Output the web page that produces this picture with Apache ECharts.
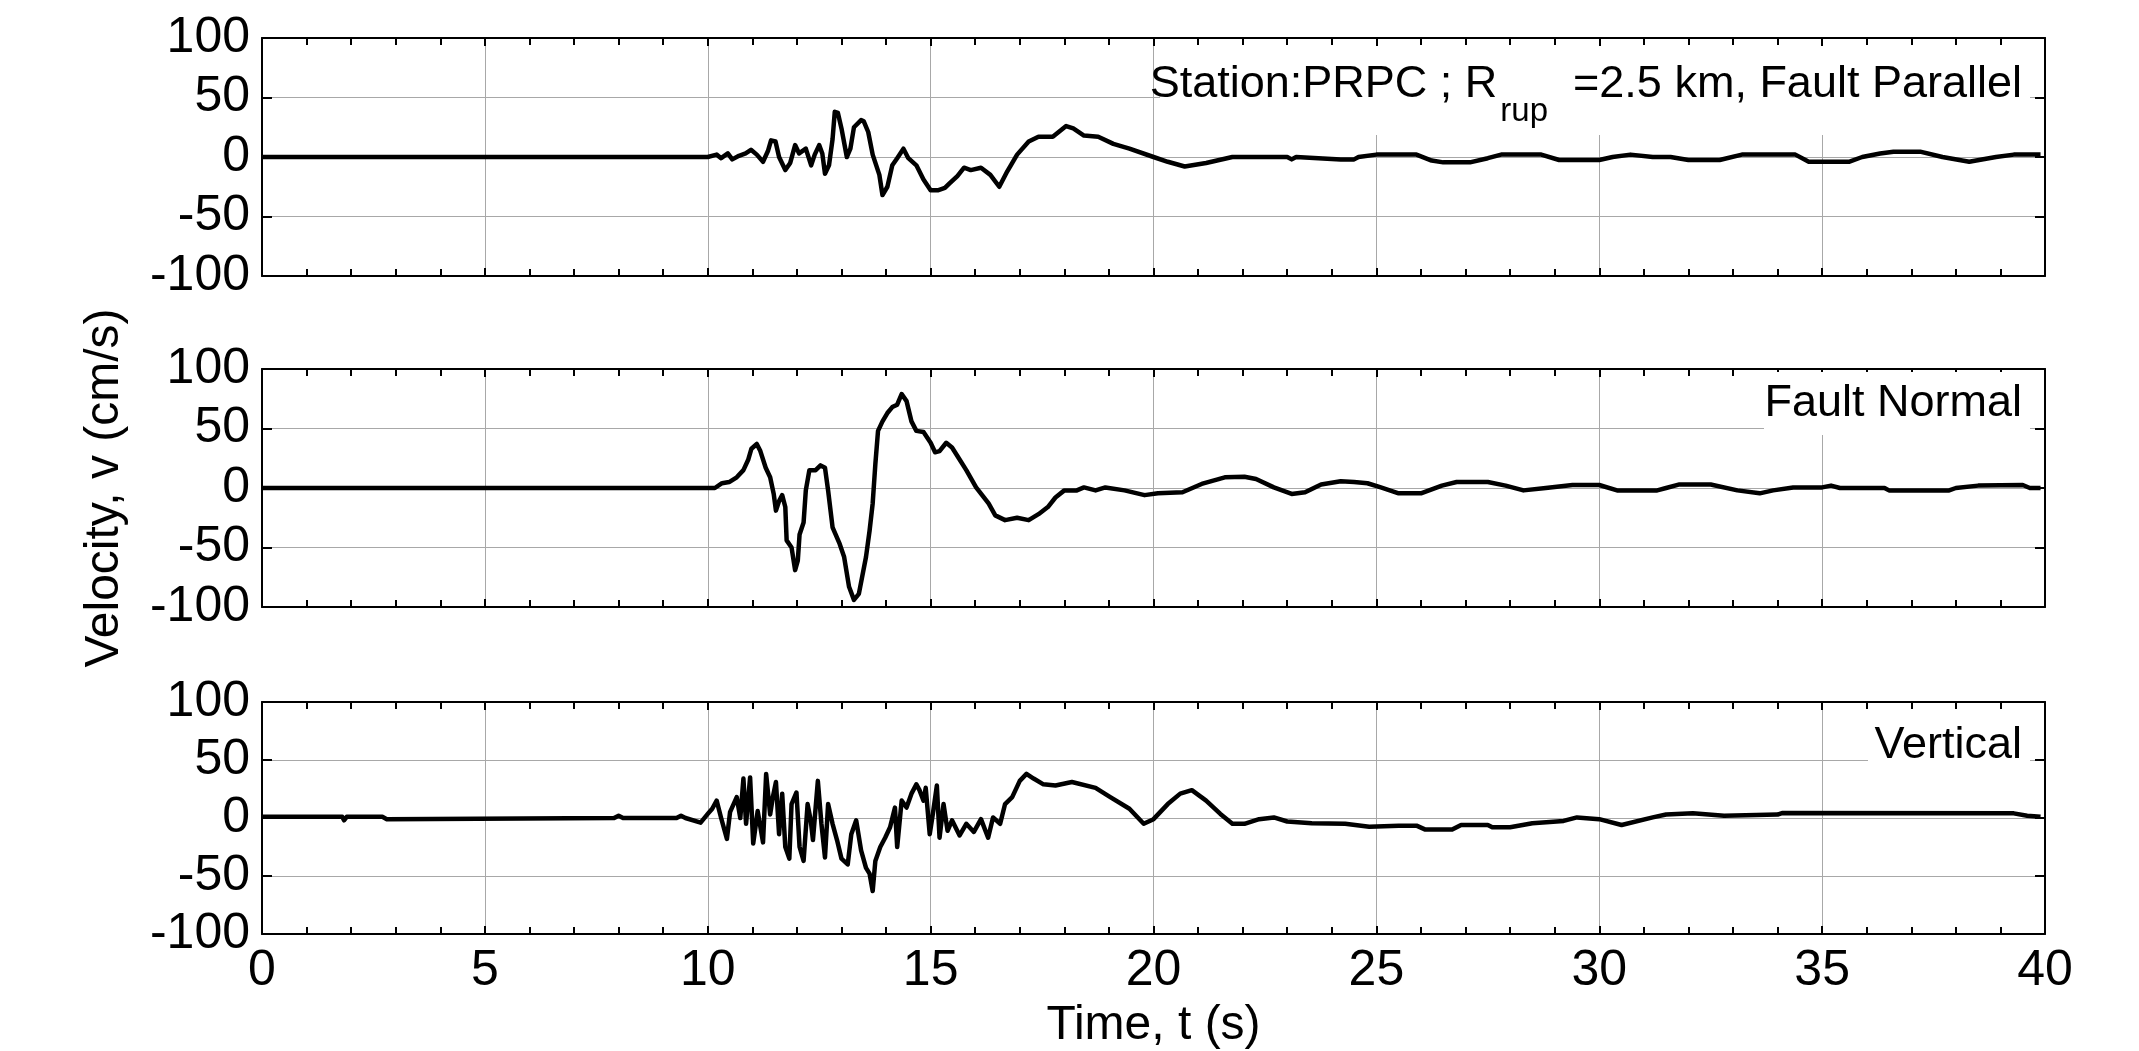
<!DOCTYPE html>
<html>
<head>
<meta charset="utf-8">
<script src="https://cdn.jsdelivr.net/npm/echarts@6/dist/echarts.min.js"></script>
<style>
html,body{margin:0;padding:0;background:#fff;}
#chart{width:2139px;height:1051px;}
</style>
</head>
<body>
<div id="chart"></div>
<script>
// ---- data (time s, velocity cm/s) ----
const xTicks = [0, 5, 10, 15, 20, 25, 30, 35, 40];
const yTicks = [-100, -50, 0, 50, 100];
const panelLabels = ["Fault Parallel", "Fault Normal", "Vertical"];
const stationText = ["Station:PRPC ; R", "rup", "  =2.5 km, "];

const tParallel = [0,10,10.2,10.3,10.45,10.55,10.7,10.85,10.97,11.1,11.24,11.35,11.42,11.52,11.6,11.74,11.85,11.96,12.05,12.2,12.32,12.4,12.5,12.57,12.63,12.72,12.8,12.85,12.92,13.0,13.12,13.2,13.28,13.44,13.5,13.6,13.7,13.85,13.92,14.03,14.14,14.25,14.39,14.5,14.68,14.84,15.0,15.16,15.32,15.43,15.6,15.75,15.9,16.13,16.34,16.54,16.72,16.94,17.2,17.42,17.74,18.04,18.2,18.44,18.76,19.1,19.46,20.0,20.32,20.7,21.18,21.77,23.0,23.1,23.2,24.2,24.5,24.6,25.0,25.9,26.24,26.5,27.1,27.5,27.8,28.7,29.1,30.0,30.3,30.7,31.2,31.6,32.0,32.7,33.2,34.4,34.7,35.6,35.9,36.3,36.6,37.2,37.7,38.3,38.9,39.3,39.9];
const vParallel = [0,0,2,-1,3,-2,1,3,6,2,-4,5,14,13,0,-11,-5,10,3,7,-7,2,10,3,-14,-7,15,38,37,24,0,7,25,31,30,21,2,-15,-32,-25,-7,-1,7,-1,-7,-19,-28,-28,-26,-22,-16,-9,-11,-9,-15,-25,-12,2,13,17,17,26,24,18,17,11,7,0,-4,-8,-5,0,0,-2,0,-2,-2,0,2,2,-3,-4.5,-4.5,-1,2,2,-2.5,-2.5,0,2,0,0,-2.5,-2.5,2,2,-4,-4,0,3,4.5,4.5,0,-4,0,2,2];

const tNormal = [0,10.16,10.32,10.48,10.65,10.8,10.91,10.98,11.1,11.18,11.3,11.4,11.48,11.53,11.6,11.67,11.74,11.77,11.88,11.96,12.02,12.06,12.15,12.2,12.28,12.42,12.53,12.63,12.7,12.8,12.96,13.06,13.17,13.28,13.39,13.55,13.63,13.7,13.76,13.82,13.92,14.03,14.14,14.25,14.35,14.46,14.57,14.68,14.84,15.0,15.1,15.2,15.35,15.48,15.65,15.8,16.02,16.3,16.45,16.67,16.94,17.2,17.42,17.63,17.8,18.0,18.28,18.44,18.7,18.92,19.35,19.8,20.1,20.65,21.08,21.6,22.04,22.3,22.7,23.1,23.4,23.76,24.2,24.5,24.8,25.1,25.5,26.0,26.47,26.8,27.5,27.9,28.3,28.8,29.4,30.0,30.4,31.3,31.5,31.8,32.5,33.1,33.6,33.9,34.35,35.0,35.2,35.4,36.4,36.5,37.85,38.0,38.5,39.5,39.66,39.9];
const vNormal = [0,0,4,5,9,15,24,33,37,31,17,9,-5,-19,-11,-6,-16,-44,-50,-69,-61,-39,-29,-2,15,15,19,17,-2,-33,-47,-58,-83,-94,-89,-58,-36,-13,20,48,56,63,68,70,79,73,56,48,47,38,30,31,38,34,24,15,0.5,-13,-23,-27,-25,-27,-22,-16,-8,-2,-2,0.5,-2,0.5,-2,-6,-4.5,-3.6,3.4,9,9.5,7.5,0.5,-5,-3.6,3,5.6,5,4,0.5,-4.5,-4.5,2,5,5,2,-2,0,2.5,2.5,-2,-2,0,3,3,-2,-4.5,-2,0.5,0.5,2,0,0,-2,-2,0,2,2.5,0,0];

const tVertical = [0,1.8,1.84,1.9,2.7,2.8,7.9,8.0,8.1,9.3,9.4,9.5,9.84,10.0,10.1,10.2,10.3,10.43,10.5,10.65,10.73,10.8,10.86,10.95,11.02,11.12,11.24,11.31,11.4,11.46,11.53,11.6,11.67,11.74,11.83,11.88,11.99,12.06,12.15,12.24,12.31,12.36,12.47,12.55,12.63,12.7,12.8,12.9,13.0,13.14,13.22,13.33,13.44,13.55,13.63,13.7,13.76,13.87,13.98,14.09,14.2,14.25,14.35,14.46,14.57,14.68,14.75,14.84,14.89,14.98,15.05,15.14,15.2,15.29,15.38,15.48,15.65,15.8,15.97,16.13,16.29,16.4,16.56,16.67,16.83,17.0,17.15,17.31,17.53,17.8,18.17,18.7,19.03,19.46,19.78,20.0,20.32,20.6,20.86,21.18,21.5,21.77,22.04,22.37,22.7,23.0,23.55,24.3,24.84,25.5,25.9,26.1,26.7,26.9,27.5,27.6,28.0,28.5,29.2,29.5,30.0,30.5,31.2,31.5,32.1,32.8,34.0,34.1,39.3,39.6,39.9];
const vVertical = [1,1,-2,1,1,-1,0,2,0,0,2,0,-4,3.5,8,15,0,-18,5,18,0,34,-5,35,-22,6,-21,38,3,18,31,-14,21,-25,-35,12,22,-25,-37,12,-2,-19,32,-5,-34,12,-5,-19,-35,-40,-14,-2,-28,-43,-48,-63,-37,-25,-17,-8,9,-25,15,9,21,29,24,15,26,-14,3.5,28,-17,12,-11,-2,-15,-5,-12,-1,-17,0.5,-5,12,18,32,38,34,29,28,31,26,18,8,-5,-1,12,21,24,15,3.5,-5,-5,-1,0.5,-3,-4.5,-5,-7.5,-6.6,-6.6,-10,-10,-6,-6,-8,-8,-4.5,-2.5,0.5,-1,-6,0.5,3,4,2,3,4.3,4,2,1];

function pairs(t, v) { return t.map((x, i) => [x, v[i]]); }

const FONT = 'Liberation Sans, Arial, sans-serif';
const grids = [
  {left: 262, right: 94, top: 38, height: 238},
  {left: 262, right: 94, top: 369, height: 238},
  {left: 262, right: 94, top: 702, height: 232}
];

const tickStyle = {color: '#000', width: 2};
const xAxes = [], yAxes = [];
for (let i = 0; i < 3; i++) {
  xAxes.push({
    gridIndex: i, type: 'value', min: xTicks[0], max: xTicks[xTicks.length - 1], interval: 5,
    position: 'bottom',
    axisLine: {onZero: false, lineStyle: {color: '#000', width: 2}},
    axisTick: {inside: true, length: 8, lineStyle: tickStyle},
    minorTick: {show: true, splitNumber: 5, length: 7, lineStyle: tickStyle},
    splitLine: {show: true, lineStyle: {color: '#a8a8a8', width: 1}},
    axisLabel: {show: i === 2, fontSize: 50, color: '#000', fontFamily: FONT, margin: 12,
      formatter: v => xTicks.includes(v) ? String(v) : ''},
    name: i === 2 ? 'Time, t (s)' : '',
    nameLocation: 'middle', nameGap: 68,
    nameTextStyle: {fontSize: 48, color: '#000', fontFamily: FONT}
  });
  xAxes.push({
    gridIndex: i, type: 'value', min: xTicks[0], max: xTicks[xTicks.length - 1], interval: 5,
    position: 'top',
    axisLine: {onZero: false, lineStyle: {color: '#000', width: 2}},
    axisTick: {inside: true, length: 8, lineStyle: tickStyle},
    minorTick: {show: true, splitNumber: 5, length: 7, lineStyle: tickStyle},
    splitLine: {show: false},
    axisLabel: {show: false}
  });
  yAxes.push({
    gridIndex: i, type: 'value', min: yTicks[0], max: yTicks[yTicks.length - 1], interval: 50,
    position: 'left',
    axisLine: {show: true, onZero: false, lineStyle: {color: '#000', width: 2}},
    axisTick: {show: true, inside: true, length: 10, lineStyle: tickStyle},
    splitLine: {show: true, lineStyle: {color: '#a8a8a8', width: 1}},
    axisLabel: {fontSize: 50, color: '#000', fontFamily: FONT, margin: 12},
    name: i === 1 ? 'Velocity, v (cm/s)' : '',
    nameLocation: 'middle', nameGap: 133,
    nameTextStyle: {fontSize: 48, color: '#000', fontFamily: FONT}
  });
  yAxes.push({
    gridIndex: i, type: 'value', min: yTicks[0], max: yTicks[yTicks.length - 1], interval: 50,
    position: 'right',
    axisLine: {show: true, onZero: false, lineStyle: {color: '#000', width: 2}},
    axisTick: {show: true, inside: true, length: 10, lineStyle: tickStyle},
    splitLine: {show: false},
    axisLabel: {show: false}
  });
}

const seriesData = [pairs(tParallel, vParallel), pairs(tNormal, vNormal), pairs(tVertical, vVertical)];
const series = seriesData.map((d, i) => ({
  type: 'line', xAxisIndex: i * 2, yAxisIndex: i * 2, data: d,
  showSymbol: false, symbol: 'none', smooth: false,
  lineStyle: {color: '#000', width: 4.5, join: 'round'},
  z: 3
}));

// measure text widths for the annotation with a subscript
const mc = document.createElement('canvas').getContext('2d');
function tw(s, size) { mc.font = size + 'px ' + FONT; return mc.measureText(s).width; }
const MAIN = 45, SUB = 33, RIGHT_X = 2022;
const tail = stationText[2] + panelLabels[0];
const wTail = tw(tail, MAIN), wSub = tw(stationText[1], SUB);

const txt = (text, x, y, size, align) => ({
  type: 'text', x: x, y: y, z: 10,
  style: {text: text, font: size + 'px ' + FONT, fill: '#000', align: align, verticalAlign: 'middle'}
});

const graphics = [
  // white annotation boxes (cover gridlines like the legend boxes of the original)
  {type: 'rect', shape: {x: 1160, y: 46, width: 870, height: 89}, style: {fill: '#fff'}, z: 9},
  {type: 'rect', shape: {x: 1764, y: 372, width: 266, height: 63}, style: {fill: '#fff'}, z: 9},
  {type: 'rect', shape: {x: 1868, y: 714, width: 162, height: 62}, style: {fill: '#fff'}, z: 9},
  txt(tail, RIGHT_X, 85, MAIN, 'right'),
  txt(stationText[1], RIGHT_X - wTail, 112, SUB, 'right'),
  txt(stationText[0], RIGHT_X - wTail - wSub - 3, 85, MAIN, 'right'),
  txt(panelLabels[1], RIGHT_X, 404, MAIN, 'right'),
  txt(panelLabels[2], RIGHT_X, 746, MAIN, 'right')
];

const chart = echarts.init(document.getElementById('chart'), null, {renderer: 'canvas'});
chart.setOption({
  animation: false,
  backgroundColor: '#fff',
  grid: grids,
  xAxis: xAxes,
  yAxis: yAxes,
  series: series,
  graphic: graphics
});
</script>
</body>
</html>
